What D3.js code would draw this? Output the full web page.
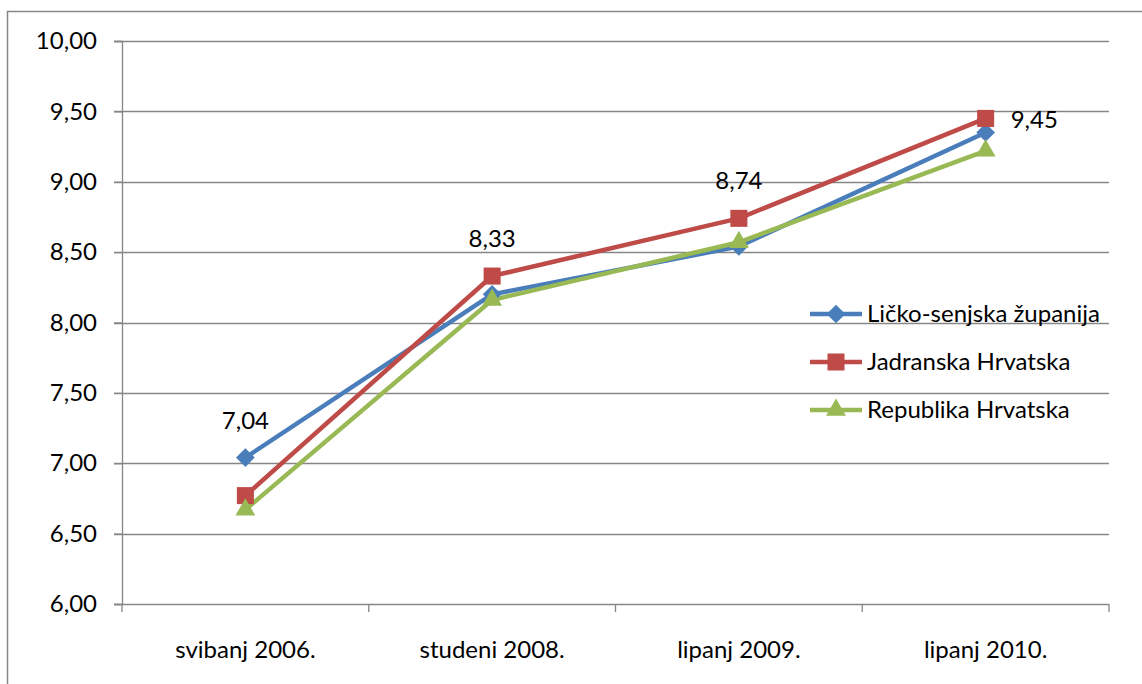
<!DOCTYPE html>
<html lang="hr">
<head>
<meta charset="UTF-8">
<title>Linijski graf</title>
<script src="https://d3js.org/d3.v7.min.js"></script>
<style>
  body { margin: 0; background: #fff; }
  svg text { font-family: Lato, "Open Sans", sans-serif; fill: #000; }
</style>
</head>
<body>
<svg width="1142" height="684"></svg>
<script>
// podaci
const categories = ["svibanj 2006.", "studeni 2008.", "lipanj 2009.", "lipanj 2010."];
const seriesNames = ["Ličko-senjska županija", "Jadranska Hrvatska", "Republika Hrvatska"];
const licko = [7.04, 8.20, 8.54, 9.35];
const jadranska = [6.77, 8.33, 8.74, 9.45];
const republika = [6.67, 8.16, 8.57, 9.22];
const yTicks = [6.0, 6.5, 7.0, 7.5, 8.0, 8.5, 9.0, 9.5, 10.0];

const series = [
  { name: seriesNames[0], values: licko, color: "#4A7EBB", marker: d3.symbolSquare, rot: 45, size: 175, labels: [0] },
  { name: seriesNames[1], values: jadranska, color: "#BE4B48", marker: d3.symbolSquare, rot: 0, size: 290, labels: [1, 2, 3] },
  { name: seriesNames[2], values: republika, color: "#98B954", marker: d3.symbolTriangle, rot: 0, size: 170, labels: [] }
];

const margin = { top: 41, right: 33, bottom: 80, left: 122 };
const width = 1142, height = 684;
const fontSize = "24px";
const svg = d3.select("svg");

// okvir
svg.append("rect")
  .attr("x", 7.5).attr("y", 11.5)
  .attr("width", 1160).attr("height", 700)
  .attr("fill", "none").attr("stroke", "#868686").attr("stroke-width", 1.5);

const x = d3.scaleBand()
  .domain(categories)
  .range([margin.left, width - margin.right]);

const y = d3.scaleLinear()
  .domain([6, 10])
  .range([height - margin.bottom, margin.top]);

const fmt = v => d3.format(".2f")(v).replace(".", ",");

// mreza
svg.append("g")
  .selectAll("line")
  .data(yTicks)
  .join("line")
  .attr("x1", margin.left - 8).attr("x2", width - margin.right)
  .attr("y1", d => Math.round(y(d)) + 0.5).attr("y2", d => Math.round(y(d)) + 0.5)
  .attr("stroke", "#868686").attr("stroke-width", 1.3);

// os Y
const yAxis = svg.append("g")
  .attr("transform", `translate(${margin.left},0)`)
  .call(d3.axisLeft(y).tickValues(yTicks).tickFormat(fmt).tickSize(8).tickPadding(17));
yAxis.selectAll("path, line").attr("stroke", "#868686").attr("stroke-width", 1.3);
yAxis.selectAll("text").style("font-size", fontSize);

// os X
const xAxisY = height - margin.bottom;
const xg = svg.append("g");
xg.selectAll("line")
  .data(d3.range(categories.length + 1))
  .join("line")
  .attr("x1", i => margin.left + i * x.bandwidth()).attr("x2", i => margin.left + i * x.bandwidth())
  .attr("y1", xAxisY).attr("y2", xAxisY + 8)
  .attr("stroke", "#868686").attr("stroke-width", 1.3);
xg.selectAll("text")
  .data(categories)
  .join("text")
  .attr("x", d => x(d) + x.bandwidth() / 2)
  .attr("y", xAxisY + 54)
  .attr("text-anchor", "middle")
  .style("font-size", fontSize)
  .text(d => d);

const cx = i => x(categories[i]) + x.bandwidth() / 2;

const line = d3.line()
  .x((d, i) => cx(i))
  .y(d => y(d));

// linije
series.forEach(s => {
  svg.append("path")
    .datum(s.values)
    .attr("d", line)
    .attr("fill", "none")
    .attr("stroke", s.color)
    .attr("stroke-width", 4.5)
    .attr("stroke-linejoin", "round");
});

// markeri
series.forEach(s => {
  svg.append("g")
    .selectAll("path")
    .data(s.values)
    .join("path")
    .attr("transform", (d, i) => `translate(${cx(i)},${y(d)}) rotate(${s.rot})`)
    .attr("d", d3.symbol().type(s.marker).size(s.size))
    .attr("fill", s.color);
});

// oznake vrijednosti
series.forEach(s => {
  s.labels.forEach(i => {
    const last = i === categories.length - 1;
    svg.append("text")
      .attr("x", last ? cx(i) + 25 : cx(i))
      .attr("y", last ? y(s.values[i]) + 10 : y(s.values[i]) - 29)
      .attr("text-anchor", last ? "start" : "middle")
      .style("font-size", fontSize)
      .text(fmt(s.values[i]));
  });
});

// legenda
const legend = svg.append("g").attr("transform", "translate(810,314)");
series.forEach((s, i) => {
  const g = legend.append("g").attr("transform", `translate(0,${i * 48})`);
  g.append("line").attr("x1", 0).attr("x2", 52).attr("y1", 0).attr("y2", 0)
    .attr("stroke", s.color).attr("stroke-width", 4.5);
  g.append("path").attr("transform", `translate(26,0) rotate(${s.rot})`)
    .attr("d", d3.symbol().type(s.marker).size(s.size)).attr("fill", s.color);
  g.append("text").attr("x", 57).attr("y", 8).style("font-size", fontSize).text(s.name);
});
</script>
</body>
</html>
